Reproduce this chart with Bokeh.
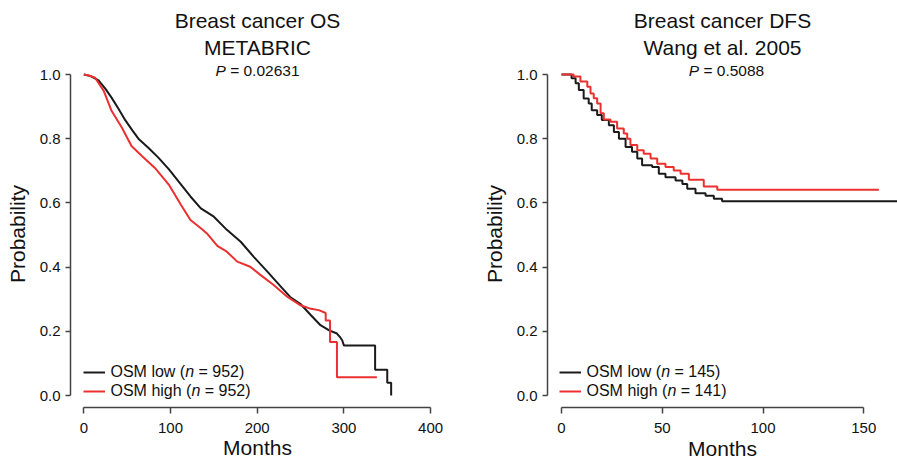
from bokeh.plotting import figure
from bokeh.models import (Range1d, FixedTicker, PrintfTickFormatter, Label,
                          Legend, LegendItem, Title)
from bokeh.layouts import row
from bokeh.embed import file_html
from bokeh.resources import INLINE

# ---------------- data ----------------
os_title = ["Breast cancer OS", "METABRIC"]
os_p_value = "0.02631"
dfs_title = ["Breast cancer DFS", "Wang et al. 2005"]
dfs_p_value = "0.5088"

group_names = ["OSM low", "OSM high"]
os_n = [952, 952]
dfs_n = [145, 141]

y_ticks = [0.0, 0.2, 0.4, 0.6, 0.8, 1.0]
os_x_ticks = [0, 100, 200, 300, 400]
dfs_x_ticks = [0, 50, 100, 150]

# METABRIC OS (dense Kaplan-Meier curves, traced)
os_low_months = [0, 8, 17, 25, 32, 40, 48, 56, 63, 75, 86, 98, 109, 123, 135, 150,
                 165, 181, 196, 212, 227, 238, 250, 262, 273, 283, 292, 296, 298,
                 300, 336, 336, 350, 350, 354.5, 354.5]
os_low_surv = [1.0, 0.995, 0.982, 0.955, 0.928, 0.893, 0.857, 0.826, 0.80, 0.77,
               0.741, 0.705, 0.668, 0.620, 0.583, 0.557, 0.516, 0.479, 0.432, 0.385,
               0.340, 0.307, 0.285, 0.25, 0.219, 0.203, 0.193, 0.180, 0.172, 0.156,
               0.156, 0.080, 0.080, 0.040, 0.040, 0.0]
os_high_months = [0, 6, 13, 23, 32, 44, 55, 67, 82, 98, 112, 123, 135, 142, 154, 165,
                  177, 192, 204, 219, 235, 250, 262, 271, 279, 279, 284, 284, 292,
                  292, 338]
os_high_surv = [1.0, 0.997, 0.99, 0.949, 0.887, 0.834, 0.777, 0.746, 0.709, 0.657,
                0.594, 0.547, 0.521, 0.505, 0.466, 0.448, 0.417, 0.401, 0.375, 0.344,
                0.307, 0.281, 0.270, 0.266, 0.257, 0.234, 0.234, 0.167, 0.167, 0.057,
                0.057]

# Wang et al. 2005 DFS (step curves)
dfs_low_months = [0, 5, 7, 8.6, 11, 13.5, 15, 17.7, 20, 23.5, 26, 28.5, 31.8, 35,
                  37.6, 40, 45, 48.3, 51.6, 56.6, 60, 62.4, 66.5, 71.5, 75.6, 79.7, 167]
dfs_low_surv = [1.0, 0.988, 0.973, 0.952, 0.925, 0.910, 0.889, 0.874, 0.858, 0.842,
                0.821, 0.800, 0.774, 0.759, 0.738, 0.717, 0.712, 0.691, 0.680, 0.670,
                0.659, 0.644, 0.630, 0.622, 0.613, 0.605, 0.605]
dfs_high_months = [0, 6, 9.4, 12.8, 14.4, 16, 17.7, 19.4, 21, 24.3, 27.6, 30.9, 32.6,
                   34.2, 37.6, 40.8, 44.2, 47.5, 51.6, 55.7, 59.1, 63.2, 70.6, 77.3,
                   157.5]
dfs_high_surv = [1.0, 0.994, 0.978, 0.962, 0.941, 0.926, 0.910, 0.879, 0.860, 0.853,
                 0.832, 0.816, 0.800, 0.780, 0.764, 0.753, 0.738, 0.722, 0.712, 0.701,
                 0.691, 0.672, 0.651, 0.641, 0.641]

# ---------------- styling ----------------
FONT = "Liberation Sans"
TEXT = "#111111"
AXIS = "#444444"
BLACK = "#1a1a1a"
RED = "#ea3030"

TOP, FRAME_H, BOTTOM = 60, 347, 54
H = TOP + FRAME_H + BOTTOM
Y1_PX, Y0_PX = 14, 335         # frame-top offsets of survival 1.0 and 0.0
PPU = Y0_PX - Y1_PX

# Arial/Liberation advance widths (em) for width estimates
AW = {c: 0.556 for c in "0123456789nhgo"}
AW.update({" ": 0.278, "=": 0.584, ".": 0.278, "P": 0.667, "(": 0.333, ")": 0.333,
           "O": 0.778, "S": 0.667, "M": 0.833, "l": 0.222, "i": 0.222, "w": 0.722})


def tw(s, size):
    return sum(AW.get(c, 0.556) for c in s) * size


def txt(p, x, y, text, size, style="normal", align="left"):
    # SVG collapses leading blanks: shift instead
    stripped = text.lstrip(" ")
    if align == "left":
        x += tw(text[:len(text) - len(stripped)], size)
    p.add_layout(Label(x=x, y=y, x_units="screen", y_units="screen", text=stripped,
                       text_font=FONT, text_font_size=f"{size}px",
                       text_font_style=style, text_align=align,
                       text_baseline="alphabetic", text_color=TEXT))


def head(text, size, standoff, offset, valign="bottom"):
    return Title(text=text, align="center", offset=offset, standoff=standoff,
                 vertical_align=valign, text_font=FONT,
                 text_font_size=f"{size}px", text_font_style="normal",
                 text_color=TEXT)


def panel(width, bl, br, x0_px, ppm, x_ticks, title, pval, curves, ns,
          title_cx, legend_x, x_label_axis, title_shift):
    fw = width - bl - br
    p = figure(width=width, height=H, output_backend="svg", toolbar_location=None,
               x_range=Range1d(-x0_px / ppm, (fw - x0_px) / ppm),
               y_range=Range1d(-(FRAME_H - Y0_PX) / PPU, 1 + Y1_PX / PPU),
               min_border_left=bl, min_border_right=br,
               min_border_top=TOP, min_border_bottom=BOTTOM)
    p.title = None
    p.grid.visible = False
    p.outline_line_color = None
    p.background_fill_color = "white"
    p.border_fill_color = "white"
    title_off = title_cx - fw / 2 + title_shift

    for ax in (p.xaxis[0], p.yaxis[0]):
        ax.axis_line_color = AXIS
        ax.axis_line_width = 1.5
        ax.major_tick_line_color = AXIS
        ax.major_tick_line_width = 1.5
        ax.major_tick_in = 0
        ax.minor_tick_line_color = None
        ax.major_label_text_font = FONT
        ax.major_label_text_font_size = "15px"
        ax.major_label_text_color = TEXT
        ax.axis_label_text_font = FONT
        ax.axis_label_text_font_size = "21px"
        ax.axis_label_text_font_style = "normal"
        ax.axis_label_text_color = TEXT

    xa, ya = p.xaxis[0], p.yaxis[0]
    xa.ticker = FixedTicker(ticks=x_ticks, minor_ticks=[])
    xa.bounds = (x_ticks[0], x_ticks[-1])
    xa.major_tick_out = 6
    xa.major_label_standoff = 9
    if x_label_axis:
        xa.axis_label = "Months"
        xa.axis_label_standoff = 0
    else:
        p.add_layout(head("Months", 21, 0, title_off, valign="middle"), "below")

    ya.ticker = FixedTicker(ticks=y_ticks, minor_ticks=[])
    ya.formatter = PrintfTickFormatter(format="%.1f")
    ya.bounds = (0, 1)
    ya.major_tick_out = 5
    ya.major_label_standoff = 5
    ya.axis_label = "Probability"
    ya.axis_label_standoff = 8

    items = []
    for (mx, sy, color, kind), name, n, row_i in zip(curves, group_names, ns, (0, 1)):
        if kind == "step":
            r = p.step(mx, sy, mode="after", line_color=color, line_width=2)
        else:
            r = p.line(mx, sy, line_color=color, line_width=2)
        items.append(LegendItem(label="", renderers=[r]))
        # legend text with italic n
        base_y = 36 - 19 * row_i
        x = legend_x + 26.7
        a = f"{name} ("
        txt(p, x, base_y, a, 16)
        x += tw(a, 16)
        txt(p, x, base_y, "n", 16, style="italic")
        x += tw("n", 16)
        txt(p, x, base_y, f" = {n})", 16)

    leg = Legend(items=items, location=(legend_x, 7.7), glyph_width=22,
                 glyph_height=16, label_height=16, label_width=0, label_standoff=0,
                 spacing=3, padding=0, margin=0, background_fill_alpha=0,
                 border_line_alpha=0, label_text_font_size="10px")
    p.add_layout(leg)

    # titles (inner line first, outer line second)
    p.add_layout(head(title[1], 21, 4, title_off), "above")
    p.add_layout(head(title[0], 21, 0, title_off), "above")
    rest = f" = {pval}"
    total = tw("P", 15.5) + tw(rest, 15.5)
    sx = title_cx - total / 2
    txt(p, sx, FRAME_H - 10, "P", 15.5, style="italic")
    txt(p, sx + tw("P", 15.5), FRAME_H - 10, rest, 15.5)
    return p


left = panel(477, 70, 33, 13.3, 0.867, os_x_ticks, os_title, os_p_value,
             [(os_low_months, os_low_surv, BLACK, "line"),
              (os_high_months, os_high_surv, RED, "line")],
             os_n, 187, 13.3, True, 0)
right = panel(420, 70, 0, 14, 2.015, dfs_x_ticks, dfs_title, dfs_p_value,
              [(dfs_low_months, dfs_low_surv, BLACK, "step"),
               (dfs_high_months, dfs_high_surv, RED, "step")],
              dfs_n, 179, 12.3, False, 3)

layout = row(left, right, spacing=0)
open("out.html", "w").write(file_html(layout, INLINE, title="KM curves"))
